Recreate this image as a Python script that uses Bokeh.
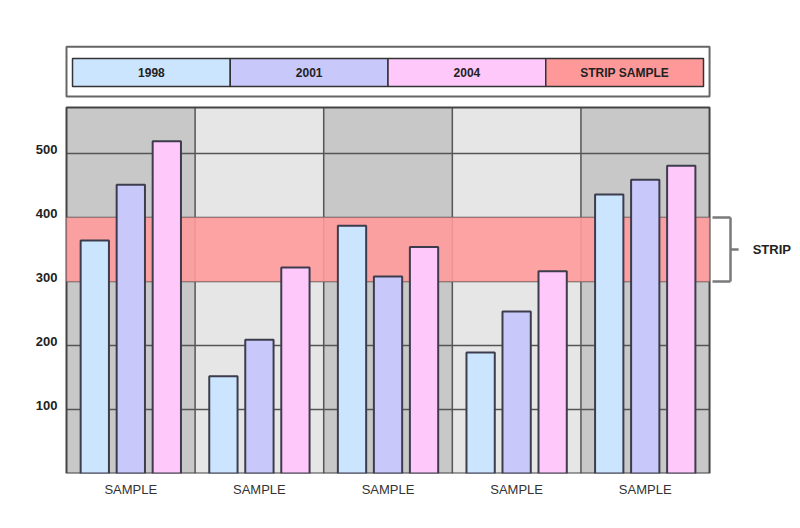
from bokeh.plotting import figure
from bokeh.models import Range1d, LinearAxis, FixedTicker
from bokeh.core.properties import value
from bokeh.embed import file_html
from bokeh.resources import INLINE

# ---- data ----
categories = ["SAMPLE", "SAMPLE", "SAMPLE", "SAMPLE", "SAMPLE"]
series_names = ["1998", "2001", "2004"]
values_1998 = [364, 152, 387, 189, 436]
values_2001 = [451, 209, 308, 253, 459]
values_2004 = [519, 322, 354, 316, 481]
series_colors = ["#cce5ff", "#c8c8fa", "#ffc8fa"]
strip_low = 300
strip_high = 400
strip_label = "STRIP"
strip_legend_label = "STRIP SAMPLE"
strip_color = "#ff9999"
y_ticks = [100, 200, 300, 400, 500]
y_top = 572

FONT = "Liberation Sans"
n = len(categories)
series_values = [values_1998, values_2001, values_2004]

p = figure(width=792, height=520,
           x_range=Range1d(-0.951, 5.145), y_range=Range1d(0, 726.6),
           output_backend="svg", toolbar_location=None,
           x_axis_type=None, y_axis_type=None,
           min_border_left=8, min_border_right=0, min_border_top=8, min_border_bottom=47)
p.outline_line_color = None
p.background_fill_color = "white"
p.border_fill_color = "white"

# alternating column bands
band_colors = ["#c8c8c8" if i % 2 == 0 else "#e6e6e6" for i in range(n)]
p.quad(left=[i - 0.5 for i in range(n)], right=[i + 0.5 for i in range(n)],
       bottom=0, top=y_top, fill_color=band_colors, line_color=None)

# grid lines
p.segment(x0=-0.5, x1=n - 0.5, y0=y_ticks, y1=y_ticks, line_color="#555555", line_width=1.5)
p.segment(x0=[i + 0.5 for i in range(n - 1)], x1=[i + 0.5 for i in range(n - 1)],
          y0=0, y1=y_top, line_color="#555555", line_width=1.5)
# plot border
p.quad(left=-0.5, right=n - 0.5, bottom=0, top=y_top, fill_color=None,
       line_color="#444444", line_width=2)

# strip band
p.quad(left=-0.5, right=n - 0.5, bottom=strip_low, top=strip_high,
       fill_color="#ff9b9b", fill_alpha=0.9, line_color=None)

# bars
offsets = [-0.28, 0.0, 0.28]
for vals, col, off in zip(series_values, series_colors, offsets):
    p.vbar(x=[i + off for i in range(n)], top=vals, bottom=0, width=0.22,
           fill_color=col, line_color="#3c3c4c", line_width=2)

# y tick labels
p.text(x=[-0.57] * len(y_ticks), y=y_ticks, text=[str(t) for t in y_ticks],
       text_align="right", text_baseline="bottom", text_font=value(FONT),
       text_font_style="bold", text_font_size="13px", text_color="#222222")

# x axis labels
ax = LinearAxis(ticker=FixedTicker(ticks=list(range(n))),
                major_label_overrides={i: c for i, c in enumerate(categories)})
ax.axis_line_color = None
ax.major_tick_line_color = None
ax.minor_tick_line_color = None
ax.major_tick_out = 0
ax.major_tick_in = 0
ax.major_label_standoff = 8
ax.major_label_text_font = FONT
ax.major_label_text_font_size = "13px"
ax.major_label_text_color = "#333333"
p.add_layout(ax, "below")

# strip bracket
bx0, bx1, bx2 = 4.523, 4.663, 4.726
mid = (strip_low + strip_high) / 2
p.segment(x0=[bx0, bx0, bx1, bx1], x1=[bx1, bx1, bx1, bx2],
          y0=[strip_low, strip_high, strip_low, mid], y1=[strip_low, strip_high, strip_high, mid],
          line_color="#7a7a7a", line_width=2.5)
p.text(x=[4.835], y=[mid], text=[strip_label], text_align="left", text_baseline="middle",
       text_font=value(FONT), text_font_style="bold", text_font_size="13px", text_color="#222222")

# legend
p.quad(left=-0.5, right=n - 0.5, bottom=589, top=667, fill_color="white",
       line_color="#666666", line_width=2)
leg_labels = series_names + [strip_legend_label]
leg_colors = series_colors + [strip_color]
lx0, lx1 = -0.4533, 4.453
w = (lx1 - lx0) / len(leg_labels)
lefts = [lx0 + k * w for k in range(len(leg_labels))]
p.quad(left=lefts, right=[l + w for l in lefts], bottom=604.7, top=648.4,
       fill_color=leg_colors, line_color="#333333", line_width=1.5)
p.text(x=[l + w / 2 for l in lefts], y=[626.5] * len(leg_labels), text=leg_labels,
       text_align="center", text_baseline="middle", text_font=value(FONT),
       text_font_style="bold", text_font_size="12px", text_color="#222222")

open("out.html", "w").write(file_html(p, INLINE))
